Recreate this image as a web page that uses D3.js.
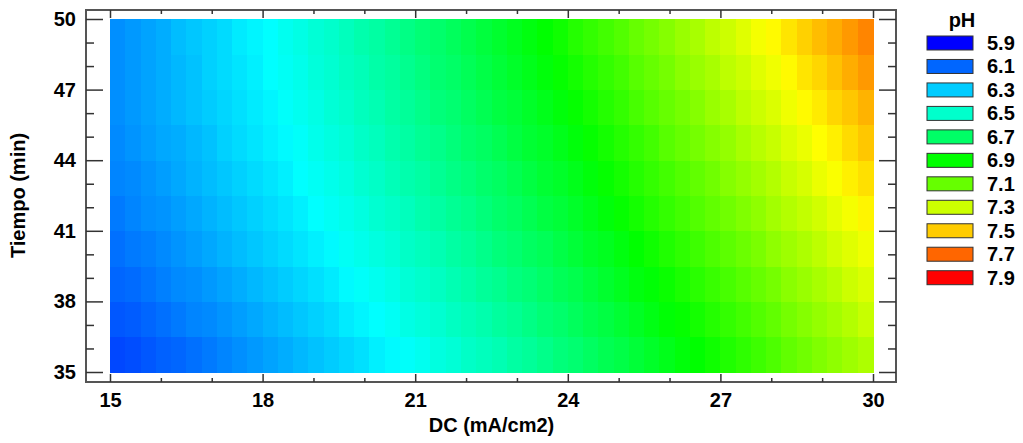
<!DOCTYPE html>
<html lang="es">
<head>
  <meta charset="UTF-8">
  <title>pH - superficie de respuesta</title>
  <script src="https://d3js.org/d3.v7.min.js"></script>
  <style>
    body { margin: 0; background: #fff; }
    svg { display: block; }
    text { font-family: "Liberation Sans", Arial, sans-serif; font-weight: bold; fill: #000; }
  </style>
</head>
<body>
  <div id="chart"></div>

  <script>
    // ejes
    const dcDomain = [15, 30];
    const timeDomain = [35, 50];
    const dcTicks = [15, 18, 21, 24, 27, 30];
    const timeTicks = [35, 38, 41, 44, 47, 50];

    // leyenda
    const phLevels = [5.9, 6.1, 6.3, 6.5, 6.7, 6.9, 7.1, 7.3, 7.5, 7.7, 7.9];
    const levelColors = ["#0000ff", "#0066ff", "#00ccff", "#00ffcc", "#00ff66", "#00ff00",
                         "#66ff00", "#ccff00", "#ffcc00", "#ff6600", "#ff0000"];

    const phRows = [
      [6.04,6.05,6.07,6.09,6.10,6.12,6.14,6.16,6.18,6.20,6.22,6.24,6.26,6.28,6.30,6.32,6.34,6.37,6.39,6.41,6.43,6.46,6.48,6.51,6.53,6.55,6.58,6.60,6.63,6.66,6.68,6.71,6.74,6.76,6.79,6.82,6.85,6.88,6.90,6.93,6.96,6.99,7.02,7.05,7.09,7.12,7.15,7.18,7.21,7.24],
      [6.07,6.08,6.10,6.12,6.14,6.16,6.17,6.19,6.21,6.23,6.25,6.27,6.29,6.31,6.33,6.36,6.38,6.40,6.42,6.45,6.47,6.49,6.52,6.54,6.56,6.59,6.61,6.64,6.67,6.69,6.72,6.75,6.77,6.80,6.83,6.86,6.89,6.91,6.94,6.97,7.00,7.03,7.06,7.09,7.13,7.16,7.19,7.22,7.25,7.29],
      [6.10,6.11,6.13,6.15,6.17,6.18,6.20,6.22,6.24,6.26,6.28,6.30,6.32,6.34,6.36,6.39,6.41,6.43,6.45,6.48,6.50,6.52,6.55,6.57,6.60,6.62,6.65,6.67,6.70,6.73,6.75,6.78,6.81,6.84,6.87,6.89,6.92,6.95,6.98,7.01,7.04,7.07,7.10,7.13,7.17,7.20,7.23,7.26,7.30,7.33],
      [6.12,6.14,6.15,6.17,6.19,6.21,6.23,6.25,6.27,6.29,6.31,6.33,6.35,6.37,6.39,6.42,6.44,6.46,6.48,6.51,6.53,6.55,6.58,6.60,6.63,6.66,6.68,6.71,6.73,6.76,6.79,6.82,6.84,6.87,6.90,6.93,6.96,6.99,7.02,7.05,7.08,7.11,7.14,7.18,7.21,7.24,7.27,7.31,7.34,7.37],
      [6.14,6.16,6.18,6.19,6.21,6.23,6.25,6.27,6.29,6.31,6.33,6.35,6.37,6.40,6.42,6.44,6.46,6.49,6.51,6.53,6.56,6.58,6.61,6.63,6.66,6.69,6.71,6.74,6.77,6.79,6.82,6.85,6.88,6.91,6.94,6.97,7.00,7.03,7.06,7.09,7.12,7.15,7.18,7.22,7.25,7.28,7.31,7.35,7.38,7.42],
      [6.16,6.17,6.19,6.21,6.23,6.25,6.27,6.29,6.31,6.33,6.35,6.37,6.40,6.42,6.44,6.46,6.49,6.51,6.54,6.56,6.58,6.61,6.64,6.66,6.69,6.71,6.74,6.77,6.80,6.82,6.85,6.88,6.91,6.94,6.97,7.00,7.03,7.06,7.09,7.12,7.16,7.19,7.22,7.25,7.29,7.32,7.36,7.39,7.43,7.46],
      [6.17,6.19,6.21,6.23,6.24,6.26,6.28,6.31,6.33,6.35,6.37,6.39,6.41,6.44,6.46,6.48,6.51,6.53,6.56,6.58,6.61,6.63,6.66,6.69,6.71,6.74,6.77,6.80,6.82,6.85,6.88,6.91,6.94,6.97,7.00,7.03,7.07,7.10,7.13,7.16,7.19,7.23,7.26,7.29,7.33,7.36,7.40,7.43,7.47,7.51],
      [6.18,6.20,6.22,6.24,6.26,6.28,6.30,6.32,6.34,6.36,6.38,6.41,6.43,6.45,6.48,6.50,6.53,6.55,6.58,6.60,6.63,6.66,6.68,6.71,6.74,6.77,6.79,6.82,6.85,6.88,6.91,6.94,6.97,7.00,7.04,7.07,7.10,7.13,7.16,7.20,7.23,7.27,7.30,7.33,7.37,7.41,7.44,7.48,7.51,7.55],
      [6.18,6.20,6.22,6.24,6.26,6.28,6.31,6.33,6.35,6.37,6.40,6.42,6.44,6.47,6.49,6.52,6.54,6.57,6.59,6.62,6.65,6.68,6.70,6.73,6.76,6.79,6.82,6.85,6.88,6.91,6.94,6.97,7.00,7.03,7.07,7.10,7.13,7.17,7.20,7.23,7.27,7.30,7.34,7.37,7.41,7.45,7.48,7.52,7.56,7.60],
      [6.18,6.20,6.22,6.24,6.27,6.29,6.31,6.33,6.36,6.38,6.40,6.43,6.45,6.48,6.50,6.53,6.56,6.58,6.61,6.64,6.67,6.69,6.72,6.75,6.78,6.81,6.84,6.87,6.90,6.93,6.97,7.00,7.03,7.06,7.10,7.13,7.16,7.20,7.23,7.27,7.30,7.34,7.38,7.41,7.45,7.49,7.53,7.56,7.60,7.64]
    ];

    const width = 1023;
    const height = 443;
    const frame = { left: 86, right: 896, top: 10, bottom: 382 };

    const svg = d3.select("#chart").append("svg")
                  .attr("width", width)
                  .attr("height", height);

    const x = d3.scaleLinear().domain(dcDomain).range([110, 873]);
    const y = d3.scaleLinear().domain(timeDomain).range([372, 19]);

    const colour = d3.scaleLinear()
                     .domain(phLevels)
                     .range(levelColors)
                     .interpolate(d3.interpolateHsl)
                     .clamp(true);

    // celdas
    const col = d3.scaleBand().domain(d3.range(phRows[0].length)).range([x(dcDomain[0]), x(dcDomain[1])]);
    const row = d3.scaleBand().domain(d3.range(phRows.length)).range([y(timeDomain[0]), y(timeDomain[1])]);

    const cells = [];
    phRows.forEach((r, i) => r.forEach((v, j) => cells.push({ i, j, v })));

    svg.append("g")
       .attr("shape-rendering", "crispEdges")
       .selectAll("rect")
       .data(cells)
       .enter()
       .append("rect")
       .attr("x", d => col(d.j))
       .attr("y", d => row(d.i))
       .attr("width", col.bandwidth() + 0.5)
       .attr("height", row.bandwidth() + 0.5)
       .attr("fill", d => colour(d.v));

    // marco
    svg.append("rect")
       .attr("x", frame.left)
       .attr("y", frame.top)
       .attr("width", frame.right - frame.left)
       .attr("height", frame.bottom - frame.top)
       .attr("fill", "none")
       .attr("stroke", "#555")
       .attr("stroke-width", 2);

    const minorX = d3.range(dcDomain[0], dcDomain[1] + 1).filter(v => !dcTicks.includes(v));
    const minorY = d3.range(timeDomain[0], timeDomain[1] + 1).filter(v => !timeTicks.includes(v));

    function styleAxis(g) {
      g.select(".domain").remove();
      g.attr("color", "#333");
      g.selectAll("line").attr("stroke-width", 1.5);
      g.selectAll("text")
       .attr("font-size", 20)
       .attr("font-family", "'Liberation Sans', Arial, sans-serif")
       .attr("font-weight", "bold")
       .attr("fill", "#000");
    }

    // abajo
    svg.append("g")
       .attr("transform", `translate(0, ${frame.bottom})`)
       .call(d3.axisBottom(x).tickValues(dcTicks).tickSize(-8).tickPadding(11))
       .call(styleAxis);
    svg.append("g")
       .attr("transform", `translate(0, ${frame.bottom})`)
       .call(d3.axisBottom(x).tickValues(minorX).tickSize(-4).tickFormat(""))
       .call(styleAxis);
    // arriba
    svg.append("g")
       .attr("transform", `translate(0, ${frame.top})`)
       .call(d3.axisTop(x).tickValues(dcTicks).tickSize(-8).tickFormat(""))
       .call(styleAxis);
    svg.append("g")
       .attr("transform", `translate(0, ${frame.top})`)
       .call(d3.axisTop(x).tickValues(minorX).tickSize(-4).tickFormat(""))
       .call(styleAxis);
    // izquierda
    svg.append("g")
       .attr("transform", `translate(${frame.left}, 0)`)
       .call(d3.axisLeft(y).tickValues(timeTicks).tickSize(-17).tickPadding(10))
       .call(styleAxis);
    svg.append("g")
       .attr("transform", `translate(${frame.left}, 0)`)
       .call(d3.axisLeft(y).tickValues(minorY).tickSize(-8).tickFormat(""))
       .call(styleAxis);
    // derecha
    svg.append("g")
       .attr("transform", `translate(${frame.right}, 0)`)
       .call(d3.axisRight(y).tickValues(timeTicks).tickSize(-17).tickFormat(""))
       .call(styleAxis);
    svg.append("g")
       .attr("transform", `translate(${frame.right}, 0)`)
       .call(d3.axisRight(y).tickValues(minorY).tickSize(-8).tickFormat(""))
       .call(styleAxis);

    // titulos de ejes
    svg.append("text")
       .attr("x", (x.range()[0] + x.range()[1]) / 2)
       .attr("y", 432)
       .attr("text-anchor", "middle")
       .attr("font-size", 20)
       .text("DC (mA/cm2)");

    svg.append("text")
       .attr("transform", `translate(25, ${(y.range()[0] + y.range()[1]) / 2}) rotate(-90)`)
       .attr("text-anchor", "middle")
       .attr("font-size", 20)
       .text("Tiempo (min)");

    // leyenda
    const legend = svg.append("g").attr("transform", "translate(927, 36)");
    const step = 23.47;

    legend.append("text")
          .attr("x", 35)
          .attr("y", -9)
          .attr("text-anchor", "middle")
          .attr("font-size", 20)
          .text("pH");

    legend.selectAll(".sw")
          .data(phLevels)
          .enter()
          .append("rect")
          .attr("class", "sw")
          .attr("x", 0)
          .attr("y", (d, i) => i * step)
          .attr("width", 46)
          .attr("height", 14)
          .attr("fill", d => colour(d))
          .attr("stroke", "#333")
          .attr("stroke-width", 1);

    legend.selectAll(".lb")
          .data(phLevels)
          .enter()
          .append("text")
          .attr("class", "lb")
          .attr("x", 60)
          .attr("y", (d, i) => i * step + 14)
          .attr("font-size", 20)
          .text(d => d.toFixed(1));
  </script>
</body>
</html>
